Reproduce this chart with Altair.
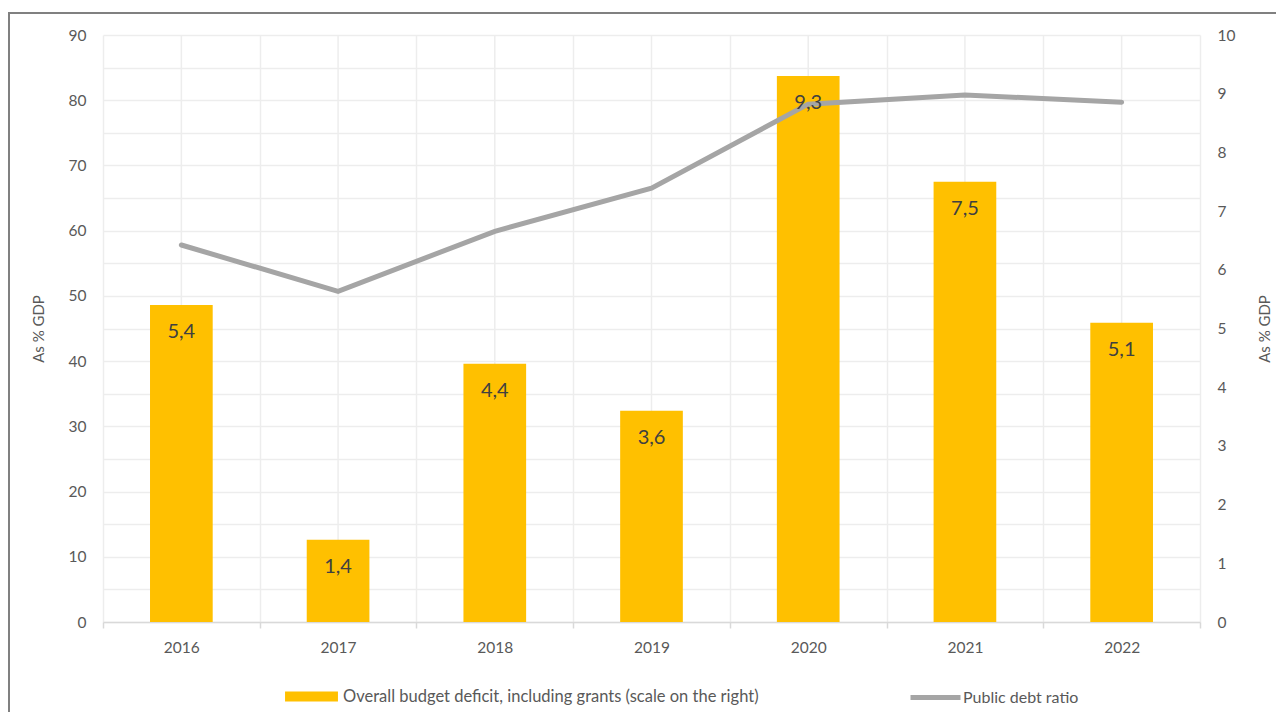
import altair as alt
import pandas as pd

years = ["2016", "2017", "2018", "2019", "2020", "2021", "2022"]
deficit = [5.4, 1.4, 4.4, 3.6, 9.3, 7.5, 5.1]
deficit_labels = ["5,4", "1,4", "4,4", "3,6", "9,3", "7,5", "5,1"]
debt = [57.8, 50.7, 59.9, 66.5, 79.4, 80.8, 79.7]
bar_name = "Overall budget deficit, including grants (scale on the right)"
line_name = "Public debt ratio"
left_ticks = list(range(0, 95, 5))
right_ticks = list(range(0, 11, 1))

df = pd.DataFrame({
    "year": years,
    "deficit": deficit,
    "label": deficit_labels,
    "debt": debt,
    "bar_series": [bar_name] * len(years),
    "line_series": [line_name] * len(years),
})

FONT = "Lato"
TXT = "#595959"
GRID = "#ededed"
W, H = 1097, 587

x_enc = alt.X(
    "year:N",
    scale=alt.Scale(paddingInner=0, paddingOuter=0),
    axis=alt.Axis(
        title=None, tickBand="extent", labelAngle=0, labelFontSize=15.5,
        labelColor=TXT, labelFont=FONT, labelPadding=12,
        domainColor="#d9d9d9", domainWidth=1.5, tickColor="#d9d9d9",
        tickSize=6, tickWidth=1.5, grid=True, gridColor=GRID, gridWidth=1.5,
    ),
)

base = alt.Chart(df)

center_rules = base.mark_rule(color=GRID, strokeWidth=1.5).encode(x=x_enc)

bars = base.mark_bar(color="#ffc000", width={"band": 0.4}).encode(
    x=x_enc,
    y=alt.Y(
        "deficit:Q",
        scale=alt.Scale(domain=[0, 10]),
        axis=alt.Axis(
            orient="right", values=right_ticks, grid=False, domain=False,
            ticks=False, labelFontSize=15.5, labelColor=TXT, labelFont=FONT,
            labelPadding=17, title="As % GDP", titleAngle=270,
            titleFontSize=15, titleFont=FONT, titleColor=TXT,
            titleFontWeight="normal", titlePadding=38,
        ),
    ),
    fill=alt.Fill(
        "bar_series:N",
        scale=alt.Scale(domain=[bar_name], range=["#ffc000"]),
        legend=alt.Legend(
            orient="none", legendX=182, legendY=635, title=None,
            symbolType="M-1,-0.19H1V0.19H-1Z", symbolSize=2800,
            symbolStrokeWidth=0, labelFontSize=16.5, labelFont=FONT,
            labelColor=TXT, labelOffset=5, padding=0, labelLimit=800,
        ),
    ),
)

line = base.mark_line(strokeWidth=5, strokeCap="round").encode(
    x=x_enc,
    y=alt.Y(
        "debt:Q",
        scale=alt.Scale(domain=[0, 90]),
        axis=alt.Axis(
            orient="left", values=left_ticks,
            labelExpr="datum.value % 10 == 0 ? datum.label : ''",
            grid=True, gridColor=GRID, gridWidth=1.5, domain=False,
            ticks=False, labelFontSize=15.5, labelColor=TXT, labelFont=FONT,
            labelPadding=17, title="As % GDP", titleFontSize=15,
            titleFont=FONT, titleColor=TXT, titleFontWeight="normal",
            titlePadding=22,
        ),
    ),
    stroke=alt.Stroke(
        "line_series:N",
        scale=alt.Scale(domain=[line_name], range=["#a5a5a5"]),
        legend=alt.Legend(
            orient="none", legendX=805, legendY=635, title=None,
            symbolType="stroke", symbolSize=2500, symbolStrokeWidth=5,
            labelFontSize=16, labelFont=FONT, labelColor=TXT,
            labelOffset=0, padding=0, labelLimit=800,
        ),
    ),
)

text = base.mark_text(
    font=FONT, fontSize=20, color="#404040", baseline="middle", dy=27
).encode(
    x=x_enc,
    y=alt.Y("deficit:Q", scale=alt.Scale(domain=[0, 10]), axis=None),
    text="label:N",
)

frame = alt.Chart(pd.DataFrame({"f": [0]})).mark_rect(
    fillOpacity=0, stroke="#808080", strokeWidth=2
).encode(
    x=alt.value(-94), x2=alt.value(1300), y=alt.value(-22), y2=alt.value(900)
)

chart = alt.layer(
    frame, center_rules, bars, line, text
).resolve_scale(
    y="independent"
).properties(
    width=W, height=H,
    autosize=alt.AutoSizeParams(type="none"),
    padding={"left": 95, "top": 27, "right": 76, "bottom": 90},
).configure_view(stroke=None)

chart.save("out.html", embed_options={"renderer": "svg", "actions": False})
